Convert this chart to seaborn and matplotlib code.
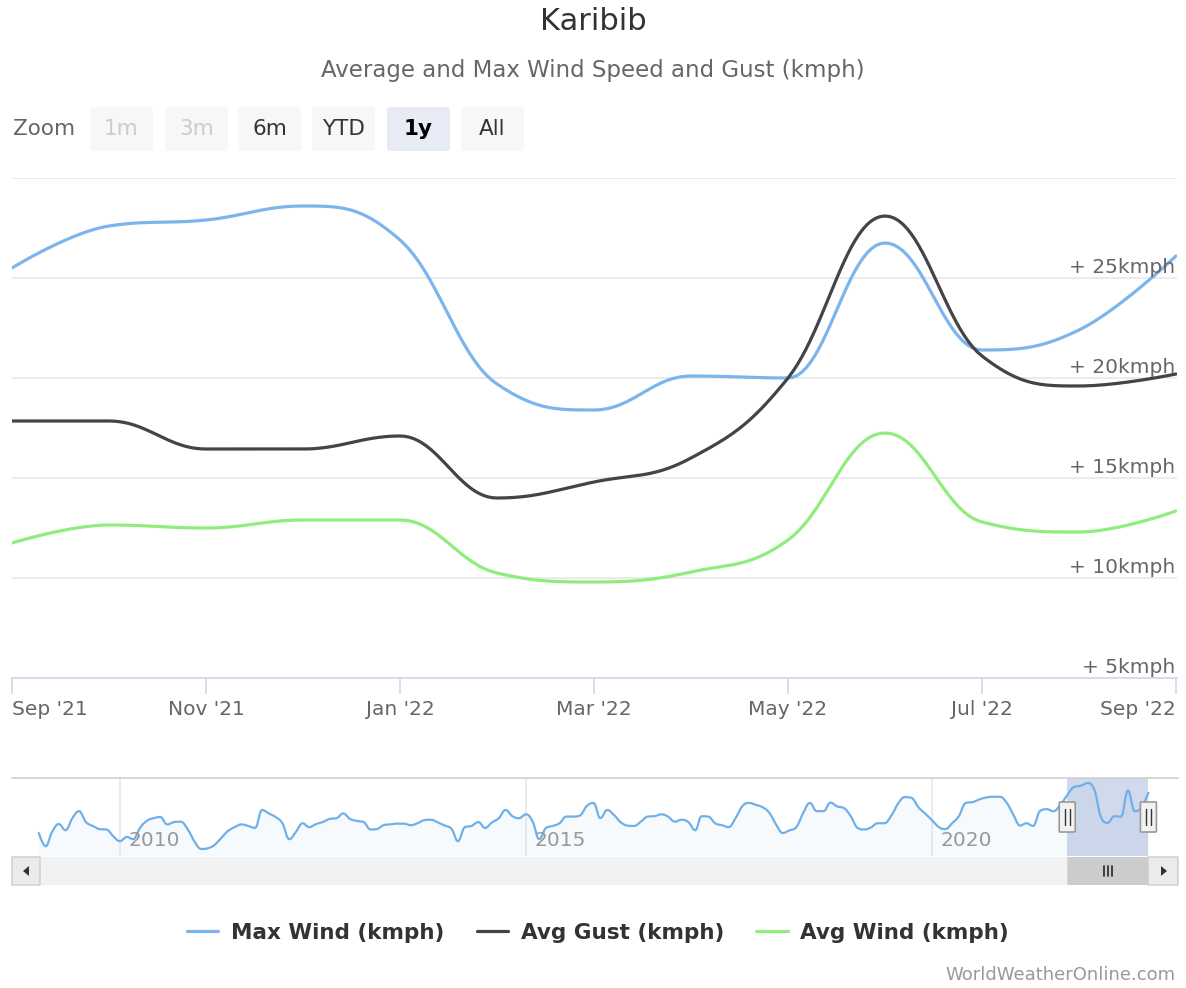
import matplotlib
matplotlib.use("Agg")
import matplotlib.pyplot as plt
from matplotlib.patches import FancyBboxPatch, Polygon
from matplotlib.lines import Line2D
from matplotlib.transforms import IdentityTransform, blended_transform_factory
import seaborn as sns
import numpy as np
import pandas as pd

# ---- data -------------------------------------------------------------
months = pd.date_range("2021-09-01", "2022-09-01", freq="MS")
max_wind = [25.5, 27.6, 27.9, 28.6, 26.9, 19.7, 18.4, 20.1, 20.0, 26.75, 21.4, 22.4, 26.1]
avg_gust = [17.85, 17.85, 16.45, 16.45, 17.1, 14.0, 14.8, 16.0, 20.0, 28.1, 21.1, 19.6, 20.2]
avg_wind = [11.75, 12.65, 12.5, 12.9, 12.9, 10.25, 9.8, 10.3, 11.9, 17.25, 12.8, 12.3, 13.35]

series_names = ["Max Wind (kmph)", "Avg Gust (kmph)", "Avg Wind (kmph)"]
series_colors = ["#7cb5ec", "#434348", "#90ed7d"]

y_ticks = [5, 10, 15, 20, 25, 30]
y_labels = [5, 10, 15, 20, 25]

# monthly max wind history (navigator), Jan 2009 - Aug 2021
history_max_wind = [
    15.8, 12.4, 16.0, 18.1, 16.5, 19.6, 21.4, 18.6, 17.6, 16.8, 16.7, 15.0,
    13.7, 14.8, 14.2, 17.1, 18.9, 19.6, 19.9, 18.0, 18.6, 18.7, 16.8, 13.7,
    11.7, 11.9, 12.7, 14.5, 16.3, 17.3, 18.0, 17.6, 17.1, 21.7, 20.8, 19.9,
    18.3, 14.2, 16.0, 18.3, 17.3, 18.1, 18.6, 19.4, 19.6, 20.8, 19.4, 18.9,
    18.6, 16.7, 16.8, 17.8, 18.0, 18.2, 18.2, 17.8, 18.3, 19.1, 19.2, 18.5,
    17.7, 16.8, 13.7, 17.3, 17.6, 18.6, 17.1, 18.5, 19.6, 21.7, 20.1, 19.6,
    20.6, 18.6, 14.2, 17.1, 17.6, 18.3, 20.0, 20.0, 20.3, 22.7, 23.5, 19.6,
    21.7, 20.4, 18.6, 17.7, 17.6, 18.7, 20.0, 20.1, 20.6, 20.0, 18.7, 19.2,
    18.6, 16.5, 20.1, 20.0, 18.3, 17.8, 17.3, 19.6, 22.7, 23.5, 23.0, 22.4,
    20.9, 17.8, 15.8, 16.5, 17.3, 20.9, 23.5, 21.4, 21.4, 23.6, 22.6, 22.2,
    20.1, 17.1, 16.7, 17.2, 18.3, 18.3, 20.1, 23.3, 25.0, 24.8, 22.4, 20.8,
    19.1, 17.3, 16.8, 18.3, 20.1, 23.5, 23.7, 24.4, 24.9, 25.1, 25.1, 23.7,
    20.6, 17.7, 18.3, 17.6, 21.4, 21.9, 21.4, 23.0,
]
nav_years = [2010, 2015, 2020]


def frac_year(dates):
    dates = pd.DatetimeIndex(dates)
    days = np.where(dates.is_leap_year, 366, 365)
    return np.asarray(dates.year + (dates.dayofyear - 1) / days, dtype=float)


def hc_spline(x, y, steps=24):
    # Highcharts-like spline (cubic bezier with smoothing 1.5)
    x = np.asarray(x, float)
    y = np.asarray(y, float)
    n = len(x)
    lcx, lcy, rcx, rcy = x.copy(), y.copy(), x.copy(), y.copy()
    sm, den = 1.5, 2.5
    for i in range(1, n - 1):
        lx, ly, px, py, nx, ny = x[i - 1], y[i - 1], x[i], y[i], x[i + 1], y[i + 1]
        l_x, l_y = (sm * px + lx) / den, (sm * py + ly) / den
        r_x, r_y = (sm * px + nx) / den, (sm * py + ny) / den
        corr = (r_y - l_y) * (r_x - px) / (r_x - l_x) + py - r_y
        l_y += corr
        r_y += corr
        if l_y > max(ly, py):
            l_y = max(ly, py)
            r_y = 2 * py - l_y
        elif l_y < min(ly, py):
            l_y = min(ly, py)
            r_y = 2 * py - l_y
        if r_y > max(py, ny):
            r_y = max(py, ny)
            l_y = 2 * py - r_y
        elif r_y < min(py, ny):
            r_y = min(py, ny)
            l_y = 2 * py - r_y
        lcx[i], lcy[i], rcx[i], rcy[i] = l_x, l_y, r_x, r_y
    t = np.linspace(0, 1, steps + 1)[1:]

    def bez(a, b, c, d):
        return (1 - t) ** 3 * a + 3 * (1 - t) ** 2 * t * b + 3 * (1 - t) * t ** 2 * c + t ** 3 * d

    xs, ys = [x[0]], [y[0]]
    for i in range(1, n):
        xs.extend(bez(x[i - 1], rcx[i - 1], lcx[i], x[i]))
        ys.extend(bez(y[i - 1], rcy[i - 1], lcy[i], y[i]))
    return np.array(xs), np.array(ys)


# ---- figure -----------------------------------------------------------
sns.set_style("white")
plt.rcParams["font.family"] = ["DejaVu Sans"]

W, H = 1186, 988
fig = plt.figure(figsize=(W / 100, H / 100), dpi=100)


def fx(x):
    return x / W


def fy(y):
    return 1 - y / H


def box(x0, y0, x1, y1, r=3, **kw):
    p = FancyBboxPatch((x0, H - y1), x1 - x0, y1 - y0,
                       boxstyle=f"round,pad=0,rounding_size={r}",
                       transform=IdentityTransform(), **kw)
    fig.add_artist(p)


def pline(xs, ys, **kw):
    fig.add_artist(Line2D(xs, [H - v for v in ys], transform=IdentityTransform(), **kw))


fig.text(0.5, fy(22), "Karibib", ha="center", va="center", fontsize=22, color="#333333")
fig.text(0.5, fy(70), "Average and Max Wind Speed and Gust (kmph)", ha="center",
         va="center", fontsize=16.5, color="#666666")

# zoom buttons
fig.text(fx(13), fy(129), "Zoom", ha="left", va="center", fontsize=15.5, color="#666666")
btn_labels = ["1m", "3m", "6m", "YTD", "1y", "All"]
btn_left = [90, 165, 238, 312, 387, 461]
for lab, x0 in zip(btn_labels, btn_left):
    selected = lab == "1y"
    disabled = lab in ("1m", "3m")
    box(x0, 107, x0 + 63, 151, fc="#e6ebf5" if selected else "#f7f7f7", ec="none")
    fig.text(fx(x0 + 31.5), fy(129), lab, ha="center", va="center", fontsize=15.5,
             color="#cccccc" if disabled else ("#000000" if selected else "#333333"),
             fontweight="bold" if selected else "normal")

# ---- main chart (ordinal x axis: one slot per month) -------------------
ax = fig.add_axes([fx(12), fy(678), (1177 - 12) / W, (678 - 178) / H])
pos = np.arange(len(months), dtype=float)

for vals, name, col in zip([max_wind, avg_gust, avg_wind], series_names, series_colors):
    xs, ys = hc_spline(pos, vals)
    sns.lineplot(x=xs, y=ys, ax=ax, color=col, linewidth=2.3, estimator=None,
                 sort=False, legend=False, solid_capstyle="round")

ax.set_xlim(0, (len(months) - 1) * 1165 / 1164)
ax.set_ylim(5, 30)
ax.set_xlabel("")
ax.set_ylabel("")
ax.set_yticks(y_ticks)
ax.yaxis.grid(True, color="#e6e6e6", linewidth=1.1)
ax.xaxis.grid(False)
ax.tick_params(axis="y", length=0, labelleft=False)
ax.set_xticks(pos[::2])
ax.set_xticklabels(months[::2].strftime("%b '%y"))
ax.tick_params(axis="x", length=11.5, width=1.1, color="#ccd6eb", labelsize=14.5,
               labelcolor="#666666", pad=4.5, bottom=True)
tl = ax.get_xticklabels()
tl[0].set_ha("left")
tl[-1].set_ha("right")
for s in ["left", "right", "top"]:
    ax.spines[s].set_visible(False)
ax.spines["bottom"].set_color("#ccd6eb")
ax.spines["bottom"].set_linewidth(1.1)

ytrans = blended_transform_factory(ax.transAxes, ax.transData)
for v in y_labels:
    ax.annotate(f"+ {v}kmph", xy=(1, v), xycoords=ytrans, xytext=(-1, 3.8),
                textcoords="offset points", ha="right", va="baseline",
                fontsize=14.5, color="#666666")

# ---- navigator --------------------------------------------------------
nav = fig.add_axes([fx(12), fy(856), (1178 - 12) / W, (856 - 778) / H])
nav_dates = pd.date_range("2009-01-01", periods=len(history_max_wind) + len(max_wind), freq="MS")
nav_vals = history_max_wind + max_wind
nx_, ny_ = hc_spline(frac_year(nav_dates), nav_vals, steps=8)
nav.fill_between(nx_, ny_, 9.9, color="#7cb5ec", alpha=0.06, lw=0)
sns.lineplot(x=nx_, y=ny_, ax=nav, color="#6fb0ea", linewidth=1.6, estimator=None,
             sort=False, legend=False)
nav.set_xlim(2008.67, 2023.03)
nav.set_ylim(9.9, 29.9)
nav.set_xlabel("")
nav.set_ylabel("")
nav.set_xticks(nav_years)
nav.set_yticks([])
nav.xaxis.grid(True, color="#e6e6e6", linewidth=1.1)
nav.tick_params(axis="x", length=0, labelbottom=False)
for s in ["left", "right", "bottom"]:
    nav.spines[s].set_visible(False)
nav.spines["top"].set_color("#cccccc")
nav.spines["top"].set_linewidth(1.1)
ntrans = blended_transform_factory(nav.transData, nav.transAxes)
for yr in nav_years:
    nav.annotate(str(yr), xy=(yr, 0), xycoords=ntrans, xytext=(6, 11.5),
                 textcoords="offset points", ha="left", va="center",
                 fontsize=14.5, color="#999999")

sel0, sel1 = frac_year([months[0], months[-1]])
nav.axvspan(sel0, sel1, color=(102 / 255, 133 / 255, 194 / 255, 0.3), lw=0)

# pixel positions of selection, from the navigator scale
px0 = nav.transData.transform((sel0, 0))[0]
px1 = nav.transData.transform((sel1, 0))[0]

# scrollbar
box(12, 857, 1178, 885, r=0, fc="#f2f2f2", ec="none")
box(px0, 857, px1, 885, r=0, fc="#cccccc", ec="none")
for dx in (-4, 0, 4):
    pline([(px0 + px1) / 2 + dx] * 2, [866, 876], color="#333333", lw=1.3)
box(12, 857, 40, 885, r=0, fc="#ebebeb", ec="#cccccc", lw=1)
box(1148, 857, 1178, 885, r=0, fc="#ebebeb", ec="#cccccc", lw=1)
fig.add_artist(Polygon([(23, H - 871), (29, H - 866), (29, H - 876)], closed=True,
                       fc="#333333", ec="none", transform=IdentityTransform()))
fig.add_artist(Polygon([(1167, H - 871), (1161, H - 866), (1161, H - 876)], closed=True,
                       fc="#333333", ec="none", transform=IdentityTransform()))

# handles
for cx in (px0, px1):
    box(cx - 8, 802, cx + 8, 832, r=1, fc="#f2f2f2", ec="#999999", lw=1.2)
    for dx in (-2.5, 2.5):
        pline([cx + dx] * 2, [809, 825], color="#333333", lw=1)

# ---- legend / credits -------------------------------------------------
handles = [Line2D([], [], color=c, lw=2.3) for c in series_colors]
fig.legend(handles, series_names, loc="center", bbox_to_anchor=(fx(598), fy(933)),
           ncol=3, frameon=False, prop={"weight": "bold", "size": 15.5},
           handlelength=1.45, handletextpad=0.6, columnspacing=1.5,
           labelcolor="#333333")
fig.text(fx(1176), fy(975), "WorldWeatherOnline.com", ha="right", va="center",
         fontsize=13, color="#999999")

fig.savefig("out.png", dpi=100, facecolor="white")
